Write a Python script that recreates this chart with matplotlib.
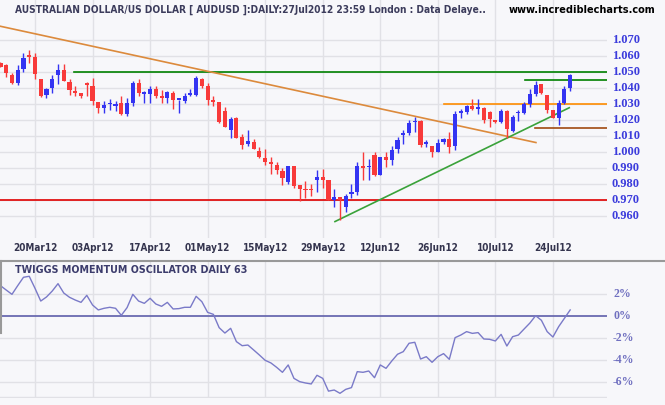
import numpy as np
import matplotlib
matplotlib.use("Agg")
import matplotlib.pyplot as plt
from matplotlib import font_manager
from matplotlib.lines import Line2D

# --- dados (candles diarios AUDUSD, 12Mar12 .. 27Jul12) ---
opens = [1.0560, 1.0543, 1.0486, 1.0436, 1.0518, 1.0599, 1.0599, 1.0461, 1.0358, 1.0402,
         1.0482, 1.0516, 1.0442, 1.0377, 1.0371, 1.0430, 1.0417, 1.0316, 1.0275, 1.0299,
         1.0289, 1.0306, 1.0237, 1.0306, 1.0436, 1.0363, 1.0363, 1.0396, 1.0354, 1.0342,
         1.0373, 1.0325, 1.0323, 1.0358, 1.0360, 1.0455, 1.0417, 1.0329, 1.0316, 1.0260,
         1.0138, 1.0212, 1.0096, 1.0048, 1.0063, 1.0009, 0.9963, 0.9935, 0.9921, 0.9883,
         0.9810, 0.9914, 0.9795, 0.9766, 0.9766, 0.9824, 0.9845, 0.9826, 0.9698, 0.9719,
         0.9657, 0.9736, 0.9753, 0.9913, 0.9905, 0.9984, 0.9858, 0.9967, 0.9951, 1.0017,
         1.0108, 1.0118, 1.0187, 1.0192, 1.0051, 1.0041, 1.0003, 1.0062, 1.0083, 1.0037,
         1.0246, 1.0250, 1.0288, 1.0273, 1.0278, 1.0251, 1.0204, 1.0188, 1.0255, 1.0131,
         1.0242, 1.0244, 1.0303, 1.0362, 1.0425, 1.0355, 1.0261, 1.0213, 1.0309, 1.0401]
highs = [1.0563, 1.0549, 1.0497, 1.0545, 1.0622, 1.0637, 1.0620, 1.0461, 1.0402, 1.0486,
         1.0549, 1.0553, 1.0457, 1.0415, 1.0371, 1.0440, 1.0465, 1.0316, 1.0323, 1.0333,
         1.0323, 1.0354, 1.0337, 1.0446, 1.0455, 1.0381, 1.0417, 1.0415, 1.0390, 1.0386,
         1.0386, 1.0329, 1.0371, 1.0398, 1.0474, 1.0467, 1.0432, 1.0354, 1.0316, 1.0281,
         1.0222, 1.0218, 1.0113, 1.0141, 1.0082, 1.0034, 1.0017, 0.9971, 0.9935, 0.9898,
         0.9914, 0.9914, 0.9795, 0.9816, 0.9799, 0.9889, 0.9893, 0.9826, 0.9768, 0.9719,
         0.9740, 0.9803, 0.9935, 1.0003, 0.9955, 0.9999, 0.9972, 1.0003, 1.0040, 1.0093,
         1.0139, 1.0202, 1.0223, 1.0202, 1.0076, 1.0041, 1.0083, 1.0087, 1.0125, 1.0257,
         1.0271, 1.0297, 1.0330, 1.0330, 1.0280, 1.0257, 1.0204, 1.0272, 1.0261, 1.0230,
         1.0265, 1.0313, 1.0393, 1.0446, 1.0429, 1.0355, 1.0261, 1.0328, 1.0412, 1.0487]
lows = [1.0532, 1.0469, 1.0425, 1.0419, 1.0505, 1.0557, 1.0459, 1.0348, 1.0337, 1.0369,
        1.0425, 1.0444, 1.0356, 1.0354, 1.0342, 1.0350, 1.0298, 1.0243, 1.0247, 1.0266,
        1.0256, 1.0235, 1.0224, 1.0289, 1.0354, 1.0306, 1.0306, 1.0337, 1.0310, 1.0306,
        1.0268, 1.0243, 1.0306, 1.0354, 1.0354, 1.0404, 1.0298, 1.0291, 1.0184, 1.0155,
        1.0090, 1.0086, 1.0017, 1.0036, 1.0017, 0.9961, 0.9921, 0.9866, 0.9866, 0.9793,
        0.9799, 0.9778, 0.9694, 0.9711, 0.9726, 0.9753, 0.9774, 0.9698, 0.9657, 0.9575,
        0.9627, 0.9711, 0.9732, 0.9823, 0.9823, 0.9852, 0.9856, 0.9909, 0.9921, 0.9993,
        1.0051, 1.0108, 1.0127, 1.0034, 1.0030, 0.9968, 1.0003, 1.0051, 0.9997, 1.0016,
        1.0215, 1.0240, 1.0261, 1.0240, 1.0185, 1.0160, 1.0181, 1.0181, 1.0089, 1.0125,
        1.0198, 1.0240, 1.0282, 1.0349, 1.0366, 1.0244, 1.0213, 1.0167, 1.0299, 1.0383]
closes = [1.0532, 1.0495, 1.0436, 1.0516, 1.0587, 1.0595, 1.0488, 1.0354, 1.0396, 1.0459,
          1.0516, 1.0444, 1.0392, 1.0373, 1.0350, 1.0421, 1.0319, 1.0275, 1.0295, 1.0306,
          1.0298, 1.0239, 1.0306, 1.0436, 1.0369, 1.0369, 1.0396, 1.0350, 1.0342, 1.0379,
          1.0325, 1.0329, 1.0354, 1.0365, 1.0467, 1.0417, 1.0329, 1.0316, 1.0191, 1.0155,
          1.0207, 1.0090, 1.0046, 1.0067, 1.0017, 0.9967, 0.9935, 0.9925, 0.9889, 0.9841,
          0.9914, 0.9789, 0.9768, 0.9761, 0.9761, 0.9845, 0.9828, 0.9698, 0.9719, 0.9698,
          0.9726, 0.9753, 0.9914, 0.9903, 0.9912, 0.9858, 0.9967, 0.9951, 1.0013, 1.0076,
          1.0114, 1.0183, 1.0193, 1.0047, 1.0057, 1.0003, 1.0057, 1.0083, 1.0035, 1.0236,
          1.0253, 1.0288, 1.0271, 1.0279, 1.0200, 1.0209, 1.0188, 1.0255, 1.0146, 1.0223,
          1.0248, 1.0303, 1.0362, 1.0418, 1.0372, 1.0261, 1.0213, 1.0309, 1.0397, 1.0481]

# Twiggs Momentum (63 dias), em %
momentum = [2.79, 2.39, 2.00, 2.79, 3.55, 3.64, 2.55, 1.39, 1.76, 2.30,
            2.97, 2.12, 1.73, 1.48, 1.27, 1.91, 1.03, 0.58, 0.73, 0.82,
            0.73, 0.09, 0.79, 2.00, 1.39, 1.18, 1.64, 1.12, 0.91, 1.27,
            0.67, 0.70, 0.82, 0.82, 1.82, 1.33, 0.36, 0.18, -1.03, -1.52,
            -1.09, -2.30, -2.67, -2.61, -3.06, -3.52, -4.00, -4.24, -4.64, -5.09,
            -4.42, -5.64, -5.94, -6.06, -6.15, -5.36, -5.64, -6.80, -6.70, -7.00,
            -6.64, -6.48, -5.03, -5.09, -4.97, -5.58, -4.42, -4.73, -4.06, -3.45,
            -3.21, -2.45, -2.36, -3.88, -3.67, -4.18, -3.67, -3.39, -3.91, -1.94,
            -1.70, -1.39, -1.55, -1.48, -2.06, -2.09, -2.24, -1.64, -2.70, -1.85,
            -1.70, -1.15, -0.61, 0.06, -0.36, -1.39, -1.88, -0.94, -0.18, 0.58]

date_labels = ['20Mar12', '03Apr12', '17Apr12', '01May12', '15May12',
               '29May12', '12Jun12', '26Jun12', '10Jul12', '24Jul12']
date_idx = [6, 16, 26, 36, 46, 56, 66, 76, 86, 96]

price_ticks = [1.070, 1.060, 1.050, 1.040, 1.030, 1.020, 1.010, 1.000, 0.990, 0.980, 0.970, 0.960]
mom_ticks = [2, 0, -2, -4, -6]

# linhas desenhadas no grafico: (x0, y0, x1, y1)
trend_res = (-0.08, 1.0789, 93.05, 1.0060)   # resistencia descendente
trend_sup = (58.13, 0.9565, 98.84, 1.0278)   # suporte ascendente
hlines = [  # (preco, inicio, cor)
    (1.050, 12.8, '#008000'),
    (1.045, 91.1, '#008000'),
    (1.030, 77.1, '#ff8c00'),
    (1.015, 92.9, '#a04a10'),
    (0.970, -1.0, '#e00000'),
]

W, H = 665, 405
bg = '#f7f7fa'
grid_c = '#e1e1e6'
XMAX = 105.4

# procura uma fonte condensada em negrito (DejaVu Sans Condensed Bold)
fp_cond = None
for f in font_manager.fontManager.ttflist:
    nome = (f.fname + f.name).lower()
    if ('condensed' in nome or 'narrow' in nome) and 'bold' in nome and 'oblique' not in nome \
            and 'italic' not in nome:
        fp_cond = font_manager.FontProperties(fname=f.fname)
        break
if fp_cond is None:
    fp_cond = font_manager.FontProperties(family='DejaVu Sans', weight='bold')


def fp(size):
    p = fp_cond.copy()
    p.set_size(size)
    return p


fig = plt.figure(figsize=(W / 100, H / 100), dpi=100, facecolor=bg)

# painel de precos
ax = fig.add_axes([0, 1 - 238 / H, 607 / W, 238 / H], facecolor=bg)
n = len(opens)
x = np.arange(n)
o = np.array(opens); c = np.array(closes)
up = c >= o
cores = np.where(up, '#3434f2', '#f83a3a')
ax.vlines(x, lows, highs, colors=cores, lw=1.0, zorder=3)
base = np.minimum(o, c)
alt = np.maximum(np.abs(c - o), 0.0011)
ax.bar(x, alt, bottom=base, width=0.72, color=cores, linewidth=0, zorder=4)

for p, x0, cor in hlines:
    ax.plot([x0, XMAX], [p, p], color=cor, lw=1.2, zorder=2)
ax.plot(trend_res[::2], trend_res[1::2], color='#dc8a3c', lw=1.2, zorder=2)
ax.plot(trend_sup[::2], trend_sup[1::2], color='#3aa23a', lw=1.2, zorder=2)

ax.set_xlim(-0.08, XMAX)
ax.set_ylim(0.9462, 1.0953)
ax.set_xticks(date_idx)
ax.set_yticks(price_ticks)
ax.grid(True, color=grid_c, lw=1.0, zorder=0)
ax.tick_params(length=0, labelbottom=False, labelleft=False)
for s in ax.spines.values():
    s.set_visible(False)
for p in price_ticks:
    ax.text(1.008, p, f'{p:.3f}', transform=ax.get_yaxis_transform(), ha='left', va='center',
            fontsize=9, fontweight='bold', family='Liberation Serif', color='#3c3cdc')

# datas
datas = []
for lab, i in zip(date_labels, date_idx):
    xp = (0.47 + 5.755 * i) / W
    datas.append(fig.text(xp, 1 - 248 / H, lab, ha='center', va='center',
                          fontproperties=fp(7.5), color='#34344e'))

# titulo
t1 = fig.text(15 / W, 1 - 10 / H, 'AUSTRALIAN DOLLAR/US DOLLAR [ AUDUSD ]:DAILY:27Jul2012 23:59 London : Data Delaye..',
              ha='left', va='center', fontproperties=fp(8), color='#3c3c5c')
t2 = fig.text(655 / W, 1 - 10 / H, 'www.incrediblecharts.com', ha='right', va='center',
              fontproperties=fp(8), color='black')

# painel do oscilador
ax2 = fig.add_axes([0, 1 - 397.5 / H, 607 / W, (397.5 - 261) / H], facecolor=bg)
ax2.plot(x, momentum, color='#7a7ac8', lw=1.0, zorder=3)
ax2.axhline(0, color='#6a6ab0', lw=1.3, zorder=2)
ax2.set_xlim(-0.08, XMAX)
ax2.set_ylim(-7.38, 5.03)
ax2.set_xticks(date_idx)
ax2.set_yticks([2, -2, -4, -6, -7.33])
ax2.grid(True, color=grid_c, lw=1.0, zorder=0)
ax2.tick_params(length=0, labelbottom=False, labelleft=False)
for s in ax2.spines.values():
    s.set_visible(False)
for v in mom_ticks:
    ax2.text(1.01, v, f'{v}%', transform=ax2.get_yaxis_transform(), ha='left', va='center',
             fontsize=8.5, family='Liberation Serif', fontweight='bold', color='#7070c0')
t3 = ax2.text(15 / 607, 1 - 9 / 136.5, 'TWIGGS MOMENTUM OSCILLATOR DAILY 63', transform=ax2.transAxes,
              ha='left', va='center', fontproperties=fp(8), color='#3c3c6c')

# separador entre paineis
fig.add_artist(Line2D([0, 1], [1 - 261 / H] * 2, color='#999999', lw=1.5))
fig.add_artist(Line2D([0.5 / W] * 2, [1 - 261 / H, 1 - 333 / H], color='#999999', lw=1.5))

# ajusta larguras dos textos as do original
fig.canvas.draw()
r = fig.canvas.get_renderer()
for t, largura in [(t1, 470), (t2, 147), (t3, 233)]:
    w = t.get_window_extent(r).width
    t.set_fontsize(t.get_fontsize() * largura / w)
w = datas[0].get_window_extent(r).width
for t in datas:
    t.set_fontsize(t.get_fontsize() * min(1.15, 44 / w))

fig.savefig('out.png', dpi=100, facecolor=bg)
